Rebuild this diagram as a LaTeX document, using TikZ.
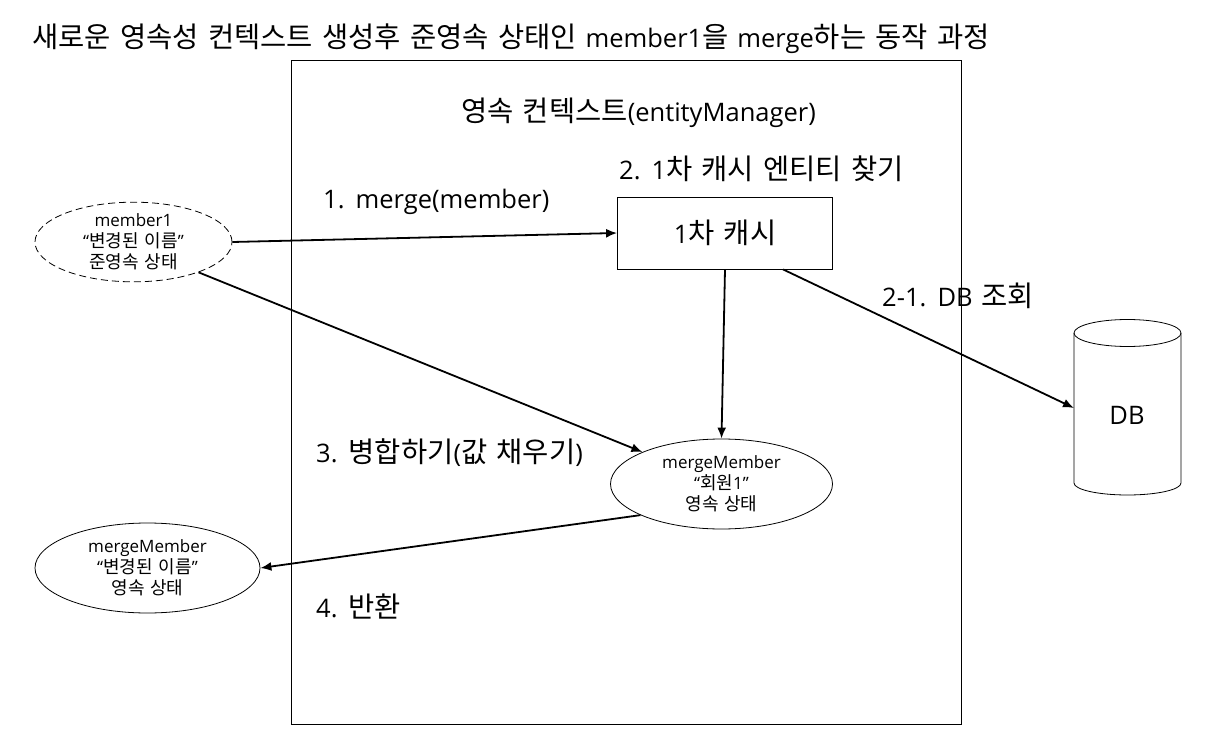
\documentclass[tikz,border=0pt]{standalone}
\usepackage{fontspec}
\setmainfont[WordSpace=1.35]{Open Sans}
\newfontfamily\kofont[WordSpace=1.45]{Noto Sans CJK KR}
\newcommand{\kob}[1]{{\fontsize{28.5}{30}\selectfont\kofont #1}}
\newcommand{\kos}[1]{{\fontsize{18}{21}\selectfont\kofont #1}}
\usetikzlibrary{shapes.geometric,arrows.meta}
\tikzset{
  px/.style={x=1pt,y=-1pt},
  lab/.style={anchor=west,inner sep=0pt,font=\fontsize{25.5}{30}\selectfont},
  ell/.style={ellipse,draw=black,line width=0.8pt,inner sep=0pt,align=center,font=\fontsize{17}{21}\selectfont},
  conn/.style={draw=black,line width=1.8pt,-{Latex[length=11pt,width=9pt]}},
}
\begin{document}
\begin{tikzpicture}[px]
\useasboundingbox (0,0) rectangle (1226,751);
\fill[white] (0,0) rectangle (1226,751);
\node[draw=black,line width=0.8pt,minimum width=670pt,minimum height=664pt,inner sep=0pt] (ctx) at (626.5,392) {};
\node[lab] (title) at (32,38.5) {\kob{새로운 영속성 컨텍스트 생성후 준영속 상태인} member1\kob{을} merge\kob{하는 동작 과정}};
\node[lab] (ctxl) at (461,112.5) {\kob{영속 컨텍스트}(entityManager)};
\node[lab] (l2) at (619,168.5) {2. 1\kob{차 캐시 엔티티 찾기}};
\node[lab] (l1) at (323,201.5) {1. merge(member)};
\node[lab] (l21) at (882,295.5) {2-1. DB \kob{조회}};
\node[lab] (l3) at (316,452.5) {3. \kob{병합하기}(\kob{값 채우기})};
\node[lab] (l4) at (316,606.5) {4. \kob{반환}};
\node[draw=black,line width=0.8pt,fill=white,minimum width=215pt,minimum height=72pt,inner sep=0pt,font=\fontsize{25.5}{30}\selectfont] (cache) at (725,233) {1\kob{차 캐시}};
\node[ell,dash pattern=on 7pt off 4pt,minimum width=197pt,minimum height=78pt] (m1) at (133.5,242) {member1\\“\kos{변경된 이름}”\\\kos{준영속 상태}};
\node[ell,minimum width=222pt,minimum height=90pt] (mm) at (721.5,484) {mergeMember\\“\kos{회원}1”\\\kos{영속 상태}};
\node[ell,minimum width=225pt,minimum height=90pt] (ret) at (147.5,568) {mergeMember\\“\kos{변경된 이름}”\\\kos{영속 상태}};
% cylinder
\coordinate (dbt) at (1127.5,333);
\draw[line width=0.8pt,fill=white] (1074,333) -- (1074,483) arc[start angle=180,end angle=360,x radius=53.5,y radius=-12] -- (1181,333);
\node[draw=black,line width=0.8pt,ellipse,minimum width=107pt,minimum height=27pt,inner sep=0pt] (dbtop) at (dbt) {};
\node[inner sep=0pt,font=\fontsize{25.5}{30}\selectfont] (db) at (1127,415) {DB};
\coordinate (dbw) at (1074,408);
\coordinate (cout) at ([xshift=58pt]cache.south);
\draw[conn] (m1.east) -- (cache.west);
\draw[conn] (m1.-25) -- (mm.158);
\draw[conn] (cache.south) -- (mm.north);
\draw[conn] (cout) -- (dbw);
\draw[conn] (mm.201) -- (ret.east);
\end{tikzpicture}
\end{document}
